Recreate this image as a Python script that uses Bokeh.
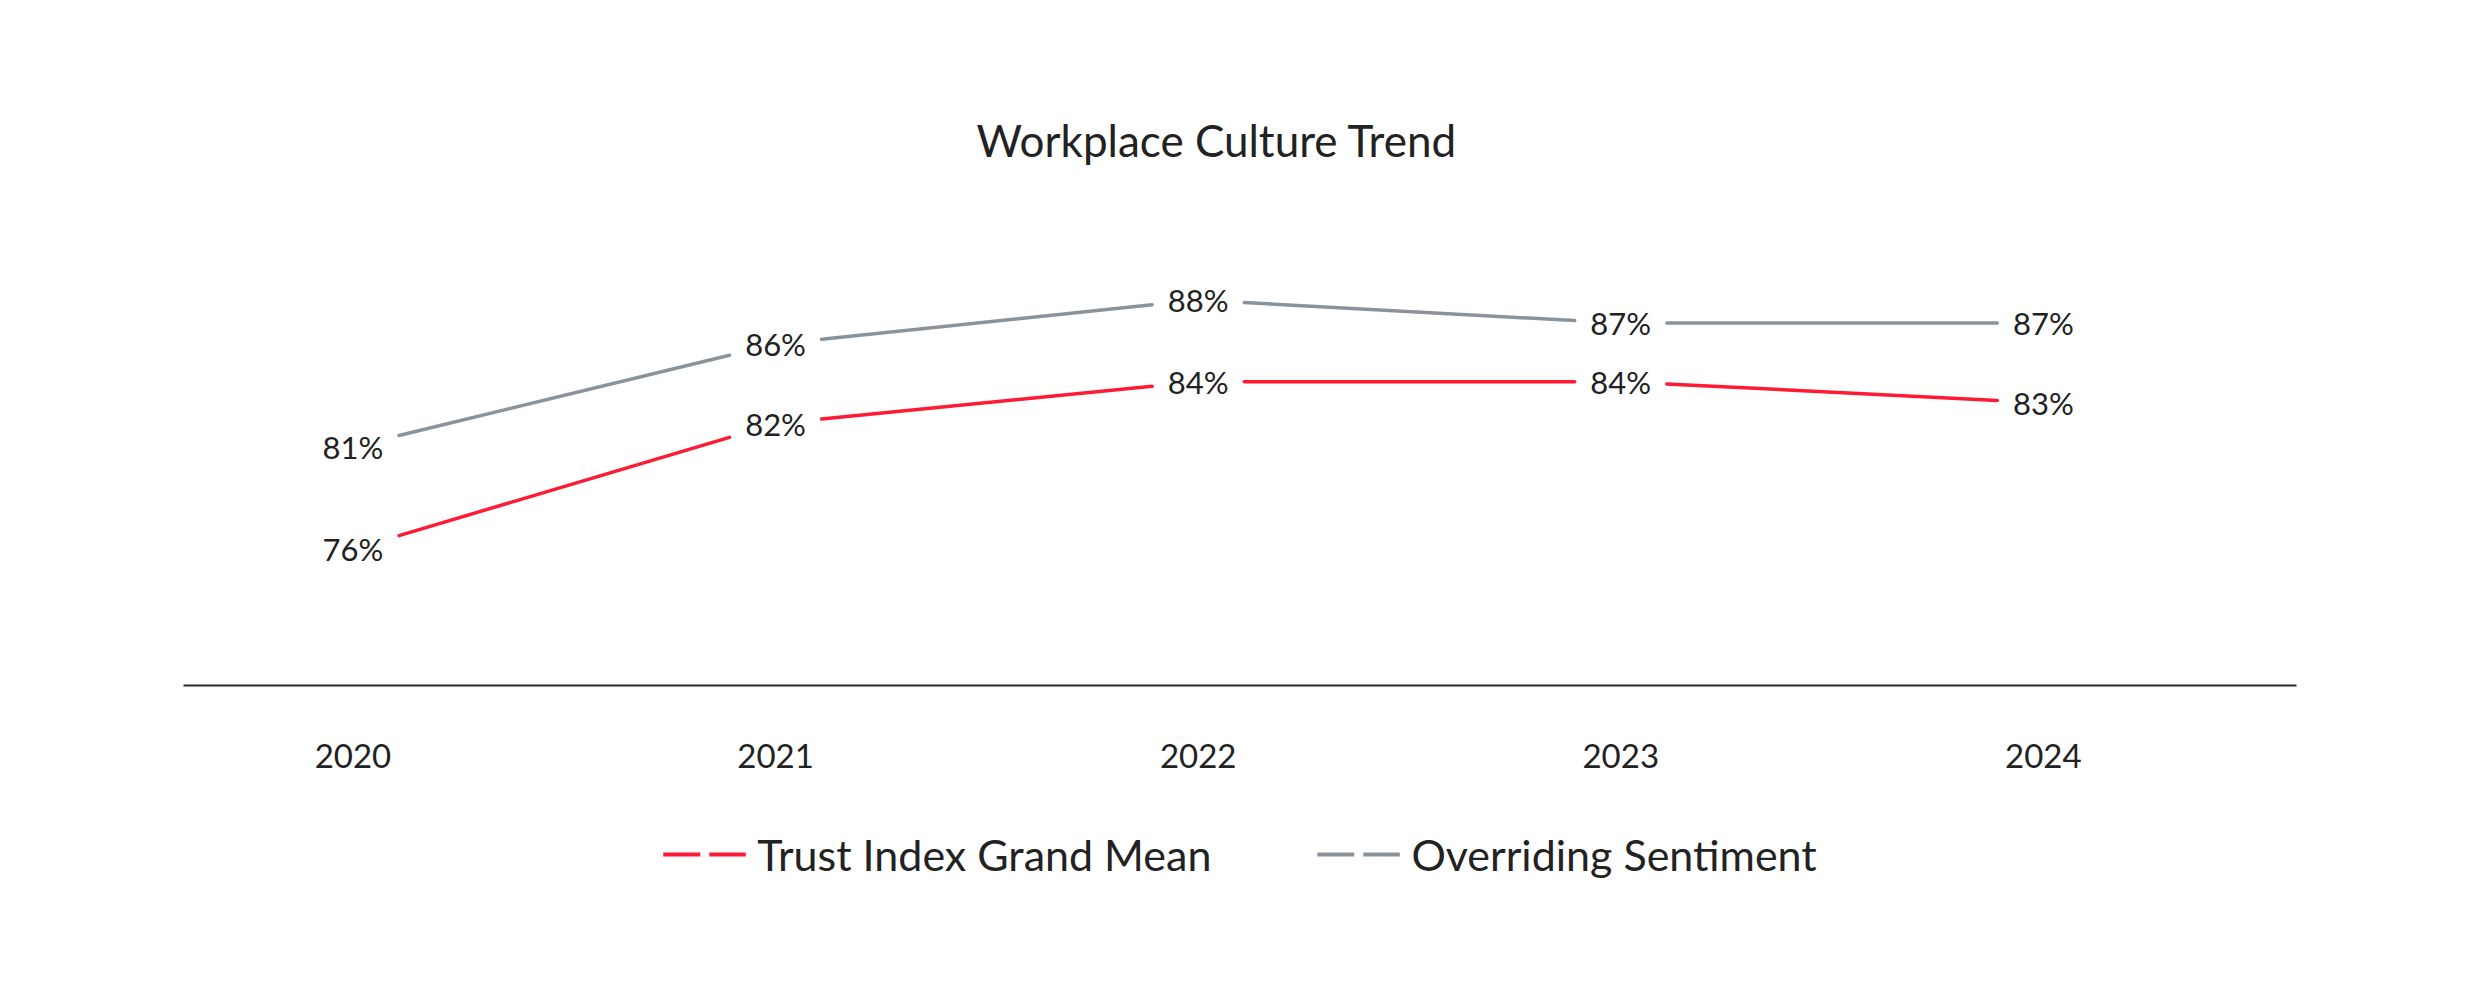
from bokeh.plotting import figure
from bokeh.layouts import column
from bokeh.models import Range1d, FixedTicker, Legend, LegendItem
from bokeh.core.properties import value
from bokeh.embed import file_html
from bokeh.resources import INLINE
import numpy as np

# ---- data ----
years = ["2020", "2021", "2022", "2023", "2024"]
trust_index = [76, 82, 84, 84, 83]
sentiment = [80.9, 85.8, 87.9, 86.8, 86.8]
series_names = ["Trust Index Grand Mean", "Overriding Sentiment"]
title_text = "Workplace Culture Trend"

# ---- style ----
RED = "#FF1A33"
GRAY = "#89939B"
TEXT = "#222222"
FONT = "Lato"
W = 2465
H_MAIN, H_LEG = 800, 108
GAP = 0.109  # break in the line around each value label (x units)

p = figure(width=W, height=H_MAIN, output_backend="svg", toolbar_location=None,
           x_range=Range1d(-0.401, 4.599), y_range=Range1d(69.5, 92.65),
           min_border_left=183, min_border_right=169,
           min_border_top=200, min_border_bottom=115)
p.outline_line_color = None
p.grid.visible = False
p.yaxis.visible = False
p.background_fill_color = "white"
p.border_fill_color = "white"

p.title.text = title_text
p.title.align = "left"
p.title.offset = 793
p.title.standoff = 70
p.title.text_font = FONT
p.title.text_font_size = "44px"
p.title.text_font_style = "normal"
p.title.text_color = TEXT

xa = p.xaxis[0]
xa.ticker = FixedTicker(ticks=list(range(len(years))))
xa.major_label_overrides = {i: y for i, y in enumerate(years)}
xa.major_tick_line_color = None
xa.minor_tick_line_color = None
xa.major_tick_out = 0
xa.major_tick_in = 0
xa.axis_line_color = "#2a2a2a"
xa.axis_line_width = 2
xa.major_label_standoff = 58
xa.major_label_text_font = FONT
xa.major_label_text_font_size = "33px"
xa.major_label_text_color = TEXT


def gapped(vals):
    x0, y0, x1, y1 = [], [], [], []
    for i in range(len(vals) - 1):
        d = vals[i + 1] - vals[i]
        x0.append(i + GAP)
        y0.append(vals[i] + d * GAP)
        x1.append(i + 1 - GAP)
        y1.append(vals[i + 1] - d * GAP)
    return x0, y0, x1, y1


for vals, color in [(sentiment, GRAY), (trust_index, RED)]:
    x0, y0, x1, y1 = gapped(vals)
    p.segment(x0=x0, y0=y0, x1=x1, y1=y1, line_color=color, line_width=3.5,
              line_cap="round")
    p.text(x=list(range(len(vals))), y=vals, text=[f"{v:.0f}%" for v in vals],
           text_font=value(FONT), text_font_size="31px", text_align="center",
           text_baseline="middle", text_color=TEXT)

# ---- legend strip (separate figure so the legend sits below the axis) ----
q = figure(width=W, height=H_LEG, output_backend="svg", toolbar_location=None,
           x_range=Range1d(0, 1), y_range=Range1d(0, 1),
           min_border_left=183, min_border_right=169,
           min_border_top=0, min_border_bottom=0)
q.outline_line_color = None
q.grid.visible = False
q.axis.visible = False
q.background_fill_color = "white"
q.border_fill_color = "white"

legend_items = []
for color, name in [(RED, series_names[0]), (GRAY, series_names[1])]:
    r = q.line(x=np.array([0.0, 1.0]), y=np.array([np.nan, np.nan]),
               line_color=color, line_width=4, line_dash="37 9")
    legend_items.append(LegendItem(label=name, renderers=[r]))

legend = Legend(items=legend_items, orientation="horizontal", location="center",
                glyph_width=83, glyph_height=53, label_standoff=12, spacing=105,
                label_text_font=FONT, label_text_font_size="43px",
                label_text_color=TEXT, border_line_color=None,
                background_fill_alpha=0, padding=0, margin=0)
q.add_layout(legend)

layout = column(p, q, spacing=0)
open("out.html", "w").write(file_html(layout, INLINE))
